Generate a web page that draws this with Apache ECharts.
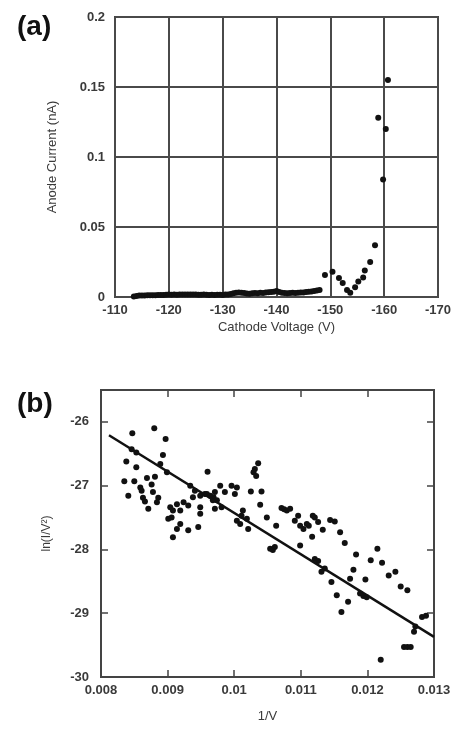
<!DOCTYPE html>
<html><head><meta charset="utf-8">
<script src="https://cdn.jsdelivr.net/npm/echarts@6/dist/echarts.min.js"></script>
<style>html,body{margin:0;padding:0;background:#fff}#c{width:460px;height:730px}</style>
</head><body><div id="c"></div>
<script>
// Panel (a): cathode voltage (V) vs anode current (nA)
const voltsA = [-113.5,-114,-114.5,-115,-115.5,-116,-116.5,-117,-117.5,-118,-118.5,-119,-119.5,-120,-120.5,-121,-121.5,-122,-122.5,-123,-123.5,-124,-124.5,-125,-125.5,-126,-126.5,-127,-127.5,-128,-128.5,-129,-129.5,-130,-130.5,-131,-131.5,-132,-132.5,-133,-133.5,-134,-134.5,-135,-135.5,-136,-136.5,-137,-137.5,-138,-138.5,-139,-139.5,-140,-140.5,-141,-141.5,-142,-142.5,-143,-143.5,-144,-144.5,-145,-145.5,-146,-146.5,-147,-147.5,-148,
  -149.0,-150.4,-151.6,-152.3,-153.1,-153.7,-154.6,-155.2,-156.1,-156.4,-157.4,-158.3,-158.9,-159.8,-160.3,-160.7];
const currentA = [0.0004,0.0008,0.001,0.001,0.0011,0.0012,0.0012,0.0013,0.0013,0.0014,0.0014,0.0015,0.0016,0.0017,0.0016,0.0017,0.0016,0.0017,0.0018,0.0017,0.0018,0.0017,0.0018,0.0017,0.0016,0.0016,0.0017,0.0016,0.0015,0.0016,0.0015,0.0016,0.0016,0.0015,0.0017,0.0018,0.0022,0.0026,0.003,0.0033,0.0031,0.0028,0.0025,0.0024,0.0026,0.0028,0.0027,0.003,0.0029,0.0032,0.0034,0.0035,0.0038,0.0042,0.0036,0.003,0.0028,0.0027,0.0029,0.003,0.0028,0.0031,0.0033,0.0032,0.0035,0.0037,0.004,0.0042,0.0046,0.005,
  0.0157,0.018,0.0136,0.010,0.005,0.003,0.007,0.011,0.014,0.019,0.025,0.037,0.128,0.084,0.12,0.155];
const xTicksA = [-110,-120,-130,-140,-150,-160,-170];
const yTicksA = [0,0.05,0.1,0.15,0.2];

// Panel (b): 1/V vs ln(I/V^2)
const invV = [0.00880,0.00847,0.00897,0.00846,0.00853,0.00893,0.00838,0.00853,0.00889,0.00960,0.00899,0.00835,0.00850,0.00869,0.00881,0.00859,0.00861,0.00876,0.00878,0.00841,0.00863,0.00866,0.00871,0.00886,0.00884,
  0.00934,0.00941,0.00938,0.00949,0.00956,0.00964,0.00971,0.00968,0.00949,0.00949,0.00971,0.00904,0.00908,0.00906,0.00901,0.00914,0.00924,0.00931,0.00919,0.00919,0.00914,0.00931,0.00946,0.00908,
  0.00959,0.00969,0.00979,0.00974,0.00981,0.00996,0.01004,0.01001,0.00986,
  0.01013,0.01011,0.01004,0.01009,0.01019,0.01021,
  0.01036,0.01031,0.01029,0.01033,0.01025,0.01041,0.01039,0.01049,0.01063,
  0.01071,0.01075,0.01079,0.01084,0.01096,0.01091,0.01099,0.01104,0.01117,0.01112,0.01121,
  0.01054,0.01058,0.01061,0.01099,
  0.01118,0.01109,0.01126,0.01133,0.01144,0.01151,0.01159,0.01166,
  0.01121,0.01126,0.01136,0.01131,0.01146,0.01154,0.01171,0.01161,0.01174,0.01179,0.01183,0.01189,0.01194,0.01199,0.01197,0.01205,0.01215,0.01222,0.01232,0.01242,0.01250,0.01260,0.01272,0.01270,0.01282,0.01288,0.01255,0.01260,0.01265,0.01220];
const lnIV2 = [-26.10,-26.18,-26.27,-26.43,-26.48,-26.52,-26.62,-26.71,-26.66,-26.78,-26.79,-26.93,-26.93,-26.88,-26.86,-27.03,-27.08,-26.98,-27.10,-27.16,-27.19,-27.25,-27.36,-27.19,-27.26,
  -27.00,-27.08,-27.18,-27.16,-27.13,-27.16,-27.10,-27.23,-27.34,-27.44,-27.36,-27.34,-27.39,-27.50,-27.52,-27.29,-27.26,-27.31,-27.39,-27.60,-27.68,-27.70,-27.65,-27.81,
  -27.13,-27.18,-27.00,-27.23,-27.34,-27.00,-27.03,-27.13,-27.10,
  -27.39,-27.47,-27.55,-27.60,-27.52,-27.68,
  -26.65,-26.74,-26.79,-26.85,-27.09,-27.09,-27.30,-27.50,-27.63,
  -27.35,-27.37,-27.39,-27.36,-27.47,-27.55,-27.63,-27.68,-27.80,-27.63,-27.50,
  -27.99,-28.01,-27.96,-27.94,
  -27.47,-27.60,-27.57,-27.69,-27.54,-27.56,-27.73,-27.90,
  -28.15,-28.18,-28.30,-28.35,-28.51,-28.72,-28.82,-28.98,-28.46,-28.32,-28.08,-28.69,-28.73,-28.75,-28.47,-28.17,-27.99,-28.21,-28.41,-28.35,-28.58,-28.64,-29.21,-29.29,-29.06,-29.04,-29.53,-29.53,-29.53,-29.73];
const fitX = [0.00812, 0.013];
const fitY = [-26.21, -29.37];
const xTicksB = [0.008,0.009,0.010,0.011,0.012,0.013];
const yTicksB = [-30,-29,-28,-27,-26];
const yMaxB = -25.5;

const FONT = "'Liberation Sans', Arial, sans-serif";
const lab = {fontFamily: FONT, fontSize: 13, color: '#3a3a3a', fontWeight: 'bold'};
const nameStyle = {fontFamily: FONT, fontSize: 13, color: '#3a3a3a'};

const chart = echarts.init(document.getElementById('c'), null, {renderer: 'canvas'});
const dataA = voltsA.map((v, i) => [v, currentA[i]]);
const dataB = invV.map((v, i) => [v, lnIV2[i]]);
const fitData = fitX.map((v, i) => [v, fitY[i]]);

const tickB = {show: true, inside: true, length: 7, lineStyle: {color: '#444', width: 1.5}};
const mark = {color: '#111', opacity: 1};

chart.setOption({
  animation: false,
  title: [
    {text: '(a)', left: 12, top: 8, textStyle: {fontFamily: FONT, fontSize: 28, fontWeight: 'bold', color: '#111'}},
    {text: '(b)', left: 12, top: 385, textStyle: {fontFamily: FONT, fontSize: 28, fontWeight: 'bold', color: '#111'}}
  ],
  grid: [
    {left: 115, top: 17, width: 323, height: 280, show: true, borderColor: '#444', borderWidth: 2, backgroundColor: 'transparent'},
    {left: 101, top: 390, width: 333, height: 287, show: true, borderColor: '#444', borderWidth: 2, backgroundColor: 'transparent'}
  ],
  xAxis: [
    {gridIndex: 0, type: 'value', inverse: true, min: Math.min(...xTicksA), max: Math.max(...xTicksA), interval: 10,
     axisLine: {show: false}, axisTick: {show: false},
     splitLine: {show: true, lineStyle: {color: '#4a4a4a', width: 2}},
     axisLabel: Object.assign({margin: 7}, lab),
     name: 'Cathode Voltage (V)', nameLocation: 'middle', nameGap: 24, nameTextStyle: nameStyle},
    {gridIndex: 1, type: 'value', min: xTicksB[0], max: xTicksB[xTicksB.length-1], interval: 0.001,
     axisLine: {show: false}, axisTick: tickB, splitLine: {show: false},
     axisLabel: Object.assign({margin: 7}, lab),
     name: '1/V', nameLocation: 'middle', nameGap: 33, nameTextStyle: nameStyle},
    {gridIndex: 1, type: 'value', position: 'top', min: xTicksB[0], max: xTicksB[xTicksB.length-1], interval: 0.001,
     axisLine: {show: false}, axisTick: tickB, splitLine: {show: false}, axisLabel: {show: false}}
  ],
  yAxis: [
    {gridIndex: 0, type: 'value', min: yTicksA[0], max: yTicksA[yTicksA.length-1], interval: 0.05,
     axisLine: {show: false}, axisTick: {show: false},
     splitLine: {show: true, lineStyle: {color: '#4a4a4a', width: 2}},
     axisLabel: Object.assign({margin: 10}, lab),
     name: 'Anode Current (nA)', nameLocation: 'middle', nameGap: 56, nameTextStyle: nameStyle},
    {gridIndex: 1, type: 'value', min: yTicksB[0], max: yMaxB, interval: 1,
     axisLine: {show: false}, axisTick: tickB, splitLine: {show: false},
     axisLabel: Object.assign({margin: 12, showMaxLabel: false}, lab),
     name: 'ln(I/V²)', nameLocation: 'middle', nameGap: 48, nameTextStyle: {fontFamily: FONT, fontSize: 12, color: '#3a3a3a'}},
    {gridIndex: 1, type: 'value', position: 'right', min: yTicksB[0], max: yMaxB, interval: 1,
     axisLine: {show: false}, axisTick: tickB, splitLine: {show: false}, axisLabel: {show: false}}
  ],
  series: [
    {type: 'scatter', xAxisIndex: 0, yAxisIndex: 0, data: dataA, symbol: 'circle', symbolSize: 6, itemStyle: mark},
    {type: 'scatter', xAxisIndex: 1, yAxisIndex: 1, data: dataB, symbol: 'circle', symbolSize: 6, itemStyle: mark},
    {type: 'line', xAxisIndex: 1, yAxisIndex: 1, data: fitData, symbol: 'none',
     lineStyle: {color: '#111', width: 2.5}}
  ]
});
</script></body></html>
